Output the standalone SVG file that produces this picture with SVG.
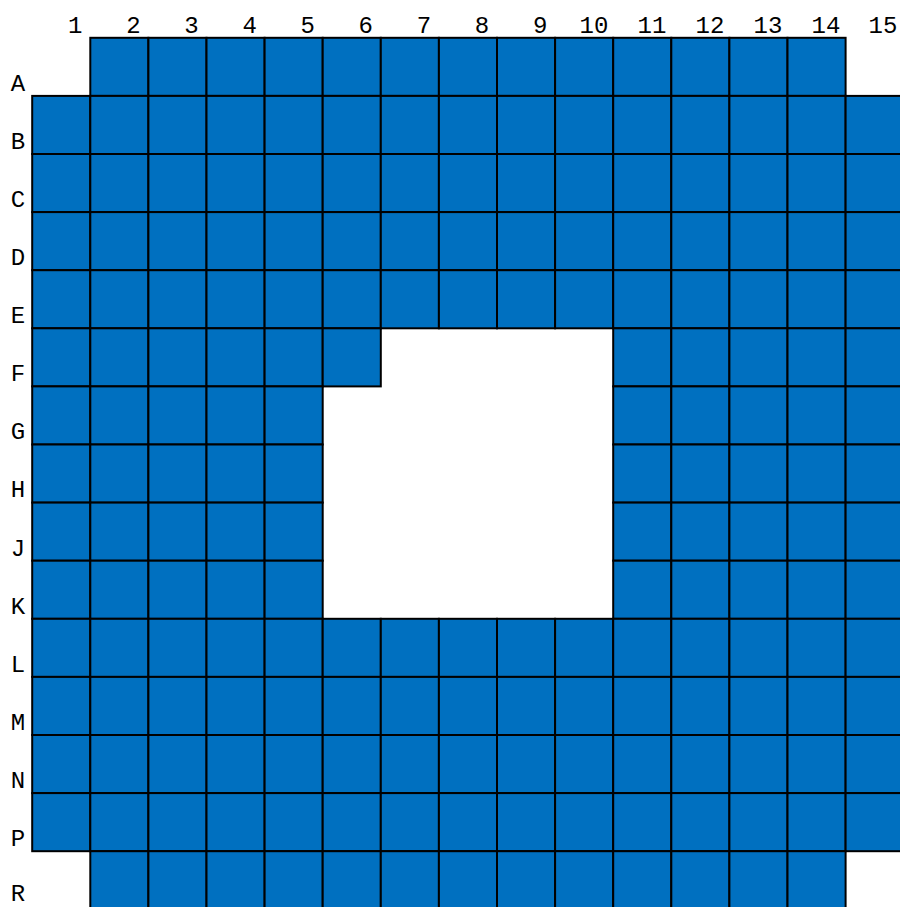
<svg xmlns="http://www.w3.org/2000/svg" xmlns:xlink="http://www.w3.org/1999/xlink" width="900" height="907" viewBox="0 0 900 907">
<style>
.lbl{font-family:"Liberation Mono","DejaVu Sans Mono",monospace;font-size:24px;fill:#000;text-anchor:middle}
.cell{fill:#0070C0;stroke:#000;stroke-width:2}
</style>
<defs><rect id="cell" class="cell" width="58.1" height="58.1"/></defs>
<rect width="900" height="907" fill="#fff"/>
<g id="col-labels">
<text class="lbl" x="75.3" y="33">1</text><text class="lbl" x="133.4" y="33">2</text><text class="lbl" x="191.5" y="33">3</text><text class="lbl" x="249.6" y="33">4</text><text class="lbl" x="307.7" y="33">5</text><text class="lbl" x="365.8" y="33">6</text><text class="lbl" x="423.9" y="33">7</text><text class="lbl" x="482" y="33">8</text><text class="lbl" x="540.1" y="33">9</text><text class="lbl" x="594" y="33">10</text><text class="lbl" x="652" y="33">11</text><text class="lbl" x="710" y="33">12</text><text class="lbl" x="768" y="33">13</text><text class="lbl" x="826" y="33">14</text><text class="lbl" x="883" y="33">15</text>
</g>
<g id="row-labels">
<text class="lbl" x="18" y="91">A</text><text class="lbl" x="18" y="149">B</text><text class="lbl" x="18" y="207">C</text><text class="lbl" x="18" y="265">D</text><text class="lbl" x="18" y="323">E</text><text class="lbl" x="18" y="381">F</text><text class="lbl" x="18" y="439">G</text><text class="lbl" x="18" y="497">H</text><text class="lbl" x="18" y="556">J</text><text class="lbl" x="18" y="614">K</text><text class="lbl" x="18" y="672">L</text><text class="lbl" x="18" y="730">M</text><text class="lbl" x="18" y="788">N</text><text class="lbl" x="18" y="846">P</text><text class="lbl" x="18" y="901">R</text>
</g>
<g id="row-A"><use href="#cell" x="90.3" y="37.8"/><use href="#cell" x="148.4" y="37.8"/><use href="#cell" x="206.5" y="37.8"/><use href="#cell" x="264.6" y="37.8"/><use href="#cell" x="322.7" y="37.8"/><use href="#cell" x="380.8" y="37.8"/><use href="#cell" x="438.9" y="37.8"/><use href="#cell" x="497" y="37.8"/><use href="#cell" x="555.1" y="37.8"/><use href="#cell" x="613.2" y="37.8"/><use href="#cell" x="671.3" y="37.8"/><use href="#cell" x="729.4" y="37.8"/><use href="#cell" x="787.5" y="37.8"/></g>
<g id="row-B"><use href="#cell" x="32.2" y="95.9"/><use href="#cell" x="90.3" y="95.9"/><use href="#cell" x="148.4" y="95.9"/><use href="#cell" x="206.5" y="95.9"/><use href="#cell" x="264.6" y="95.9"/><use href="#cell" x="322.7" y="95.9"/><use href="#cell" x="380.8" y="95.9"/><use href="#cell" x="438.9" y="95.9"/><use href="#cell" x="497" y="95.9"/><use href="#cell" x="555.1" y="95.9"/><use href="#cell" x="613.2" y="95.9"/><use href="#cell" x="671.3" y="95.9"/><use href="#cell" x="729.4" y="95.9"/><use href="#cell" x="787.5" y="95.9"/><use href="#cell" x="845.6" y="95.9"/></g>
<g id="row-C"><use href="#cell" x="32.2" y="154"/><use href="#cell" x="90.3" y="154"/><use href="#cell" x="148.4" y="154"/><use href="#cell" x="206.5" y="154"/><use href="#cell" x="264.6" y="154"/><use href="#cell" x="322.7" y="154"/><use href="#cell" x="380.8" y="154"/><use href="#cell" x="438.9" y="154"/><use href="#cell" x="497" y="154"/><use href="#cell" x="555.1" y="154"/><use href="#cell" x="613.2" y="154"/><use href="#cell" x="671.3" y="154"/><use href="#cell" x="729.4" y="154"/><use href="#cell" x="787.5" y="154"/><use href="#cell" x="845.6" y="154"/></g>
<g id="row-D"><use href="#cell" x="32.2" y="212.1"/><use href="#cell" x="90.3" y="212.1"/><use href="#cell" x="148.4" y="212.1"/><use href="#cell" x="206.5" y="212.1"/><use href="#cell" x="264.6" y="212.1"/><use href="#cell" x="322.7" y="212.1"/><use href="#cell" x="380.8" y="212.1"/><use href="#cell" x="438.9" y="212.1"/><use href="#cell" x="497" y="212.1"/><use href="#cell" x="555.1" y="212.1"/><use href="#cell" x="613.2" y="212.1"/><use href="#cell" x="671.3" y="212.1"/><use href="#cell" x="729.4" y="212.1"/><use href="#cell" x="787.5" y="212.1"/><use href="#cell" x="845.6" y="212.1"/></g>
<g id="row-E"><use href="#cell" x="32.2" y="270.2"/><use href="#cell" x="90.3" y="270.2"/><use href="#cell" x="148.4" y="270.2"/><use href="#cell" x="206.5" y="270.2"/><use href="#cell" x="264.6" y="270.2"/><use href="#cell" x="322.7" y="270.2"/><use href="#cell" x="380.8" y="270.2"/><use href="#cell" x="438.9" y="270.2"/><use href="#cell" x="497" y="270.2"/><use href="#cell" x="555.1" y="270.2"/><use href="#cell" x="613.2" y="270.2"/><use href="#cell" x="671.3" y="270.2"/><use href="#cell" x="729.4" y="270.2"/><use href="#cell" x="787.5" y="270.2"/><use href="#cell" x="845.6" y="270.2"/></g>
<g id="row-F"><use href="#cell" x="32.2" y="328.3"/><use href="#cell" x="90.3" y="328.3"/><use href="#cell" x="148.4" y="328.3"/><use href="#cell" x="206.5" y="328.3"/><use href="#cell" x="264.6" y="328.3"/><use href="#cell" x="322.7" y="328.3"/><use href="#cell" x="613.2" y="328.3"/><use href="#cell" x="671.3" y="328.3"/><use href="#cell" x="729.4" y="328.3"/><use href="#cell" x="787.5" y="328.3"/><use href="#cell" x="845.6" y="328.3"/></g>
<g id="row-G"><use href="#cell" x="32.2" y="386.4"/><use href="#cell" x="90.3" y="386.4"/><use href="#cell" x="148.4" y="386.4"/><use href="#cell" x="206.5" y="386.4"/><use href="#cell" x="264.6" y="386.4"/><use href="#cell" x="613.2" y="386.4"/><use href="#cell" x="671.3" y="386.4"/><use href="#cell" x="729.4" y="386.4"/><use href="#cell" x="787.5" y="386.4"/><use href="#cell" x="845.6" y="386.4"/></g>
<g id="row-H"><use href="#cell" x="32.2" y="444.5"/><use href="#cell" x="90.3" y="444.5"/><use href="#cell" x="148.4" y="444.5"/><use href="#cell" x="206.5" y="444.5"/><use href="#cell" x="264.6" y="444.5"/><use href="#cell" x="613.2" y="444.5"/><use href="#cell" x="671.3" y="444.5"/><use href="#cell" x="729.4" y="444.5"/><use href="#cell" x="787.5" y="444.5"/><use href="#cell" x="845.6" y="444.5"/></g>
<g id="row-J"><use href="#cell" x="32.2" y="502.6"/><use href="#cell" x="90.3" y="502.6"/><use href="#cell" x="148.4" y="502.6"/><use href="#cell" x="206.5" y="502.6"/><use href="#cell" x="264.6" y="502.6"/><use href="#cell" x="613.2" y="502.6"/><use href="#cell" x="671.3" y="502.6"/><use href="#cell" x="729.4" y="502.6"/><use href="#cell" x="787.5" y="502.6"/><use href="#cell" x="845.6" y="502.6"/></g>
<g id="row-K"><use href="#cell" x="32.2" y="560.7"/><use href="#cell" x="90.3" y="560.7"/><use href="#cell" x="148.4" y="560.7"/><use href="#cell" x="206.5" y="560.7"/><use href="#cell" x="264.6" y="560.7"/><use href="#cell" x="613.2" y="560.7"/><use href="#cell" x="671.3" y="560.7"/><use href="#cell" x="729.4" y="560.7"/><use href="#cell" x="787.5" y="560.7"/><use href="#cell" x="845.6" y="560.7"/></g>
<g id="row-L"><use href="#cell" x="32.2" y="618.8"/><use href="#cell" x="90.3" y="618.8"/><use href="#cell" x="148.4" y="618.8"/><use href="#cell" x="206.5" y="618.8"/><use href="#cell" x="264.6" y="618.8"/><use href="#cell" x="322.7" y="618.8"/><use href="#cell" x="380.8" y="618.8"/><use href="#cell" x="438.9" y="618.8"/><use href="#cell" x="497" y="618.8"/><use href="#cell" x="555.1" y="618.8"/><use href="#cell" x="613.2" y="618.8"/><use href="#cell" x="671.3" y="618.8"/><use href="#cell" x="729.4" y="618.8"/><use href="#cell" x="787.5" y="618.8"/><use href="#cell" x="845.6" y="618.8"/></g>
<g id="row-M"><use href="#cell" x="32.2" y="676.9"/><use href="#cell" x="90.3" y="676.9"/><use href="#cell" x="148.4" y="676.9"/><use href="#cell" x="206.5" y="676.9"/><use href="#cell" x="264.6" y="676.9"/><use href="#cell" x="322.7" y="676.9"/><use href="#cell" x="380.8" y="676.9"/><use href="#cell" x="438.9" y="676.9"/><use href="#cell" x="497" y="676.9"/><use href="#cell" x="555.1" y="676.9"/><use href="#cell" x="613.2" y="676.9"/><use href="#cell" x="671.3" y="676.9"/><use href="#cell" x="729.4" y="676.9"/><use href="#cell" x="787.5" y="676.9"/><use href="#cell" x="845.6" y="676.9"/></g>
<g id="row-N"><use href="#cell" x="32.2" y="735"/><use href="#cell" x="90.3" y="735"/><use href="#cell" x="148.4" y="735"/><use href="#cell" x="206.5" y="735"/><use href="#cell" x="264.6" y="735"/><use href="#cell" x="322.7" y="735"/><use href="#cell" x="380.8" y="735"/><use href="#cell" x="438.9" y="735"/><use href="#cell" x="497" y="735"/><use href="#cell" x="555.1" y="735"/><use href="#cell" x="613.2" y="735"/><use href="#cell" x="671.3" y="735"/><use href="#cell" x="729.4" y="735"/><use href="#cell" x="787.5" y="735"/><use href="#cell" x="845.6" y="735"/></g>
<g id="row-P"><use href="#cell" x="32.2" y="793.1"/><use href="#cell" x="90.3" y="793.1"/><use href="#cell" x="148.4" y="793.1"/><use href="#cell" x="206.5" y="793.1"/><use href="#cell" x="264.6" y="793.1"/><use href="#cell" x="322.7" y="793.1"/><use href="#cell" x="380.8" y="793.1"/><use href="#cell" x="438.9" y="793.1"/><use href="#cell" x="497" y="793.1"/><use href="#cell" x="555.1" y="793.1"/><use href="#cell" x="613.2" y="793.1"/><use href="#cell" x="671.3" y="793.1"/><use href="#cell" x="729.4" y="793.1"/><use href="#cell" x="787.5" y="793.1"/><use href="#cell" x="845.6" y="793.1"/></g>
<g id="row-R"><use href="#cell" x="90.3" y="851.2"/><use href="#cell" x="148.4" y="851.2"/><use href="#cell" x="206.5" y="851.2"/><use href="#cell" x="264.6" y="851.2"/><use href="#cell" x="322.7" y="851.2"/><use href="#cell" x="380.8" y="851.2"/><use href="#cell" x="438.9" y="851.2"/><use href="#cell" x="497" y="851.2"/><use href="#cell" x="555.1" y="851.2"/><use href="#cell" x="613.2" y="851.2"/><use href="#cell" x="671.3" y="851.2"/><use href="#cell" x="729.4" y="851.2"/><use href="#cell" x="787.5" y="851.2"/></g>
</svg>
